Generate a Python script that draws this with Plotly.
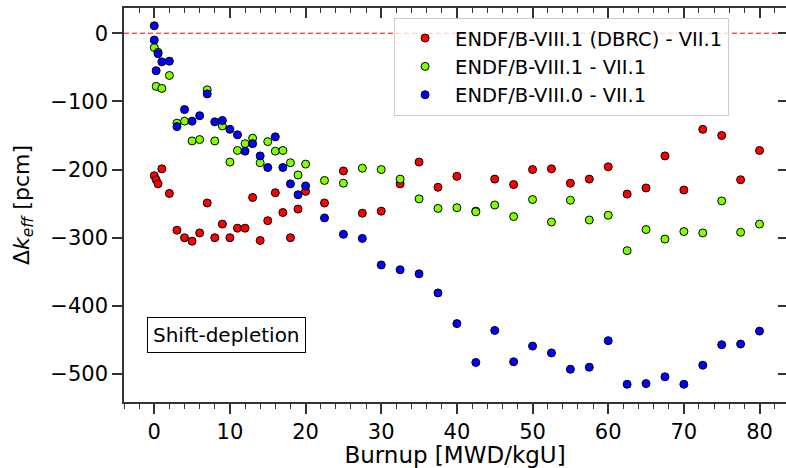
import plotly.graph_objects as go

# burnup steps [MWD/kgU]
burnup = [0, 0.25, 0.5, 1, 2, 3, 4, 5, 6, 7, 8, 9, 10, 11, 12, 13, 14, 15, 16, 17, 18, 19, 20,
          22.5, 25, 27.5, 30, 32.5, 35, 37.5, 40, 42.5, 45, 47.5, 50, 52.5, 55, 57.5, 60,
          62.5, 65, 67.5, 70, 72.5, 75, 77.5, 80]

# delta k_eff [pcm]
dk_dbrc = [-209, -215, -221, -199, -235, -289, -300, -305, -293, -249, -300, -280, -300, -286,
           -286, -241, -304, -275, -234, -263, -300, -258, -232,
           -249, -202, -264, -261, -221, -189, -226, -210, -261, -214, -222, -200, -199, -220,
           -214, -196, -236, -227, -180, -230, -141, -150, -215, -172]
dk_81 = [-21, -78, -28, -81, -62, -132, -129, -158, -156, -83, -158, -136, -189, -172,
         -162, -154, -190, -159, -173, -172, -190, -208, -192,
         -216, -220, -198, -200, -214, -243, -257, -256, -262, -252, -269, -244, -277, -245,
         -274, -267, -319, -288, -302, -291, -293, -246, -292, -280]
burnup_80 = [0] + burnup
dk_80 = [11, -10, -55, -30, -42, -41, -137, -112, -129, -121, -89, -130, -128, -141, -149,
         -173, -162, -180, -197, -152, -197, -221, -237, -224,
         -271, -295, -301, -340, -347, -353, -381, -426, -483, -436, -482, -459, -469, -493,
         -490, -451, -515, -514, -504, -515, -487, -457, -456, -437]

FONT = "DejaVu Sans"

fig = go.Figure()

series = [
    ("ENDF/B-VIII.1 (DBRC) - VII.1", burnup, dk_dbrc, "#ff0000"),
    ("ENDF/B-VIII.1 - VII.1", burnup, dk_81, "#7fff00"),
    ("ENDF/B-VIII.0 - VII.1", burnup_80, dk_80, "#0000ff"),
]
for name, x, y, c in series:
    fig.add_trace(go.Scatter(
        x=x, y=y, mode="markers", name=name,
        marker=dict(color=c, size=8, line=dict(color="black", width=1)),
    ))

# empty trace so the top/right mirror axes get drawn
fig.add_trace(go.Scatter(x=[None], y=[None], xaxis="x2", yaxis="y2",
                         showlegend=False, hoverinfo="skip"))

xr = [-4, 83.5]
yr = [-541, 37]

fig.add_hline(y=0, line=dict(color="red", width=1, dash="5px,3px"), layer="below")

fig.add_annotation(
    x=9.5, y=-442, xref="x", yref="y", text="Shift-depletion", showarrow=False,
    font=dict(size=20, color="black", family=FONT),
    bordercolor="black", borderwidth=1, borderpad=5, bgcolor="white",
)

fig.update_layout(
    width=786, height=468,
    margin=dict(l=124, r=0, t=8, b=66),
    plot_bgcolor="white", paper_bgcolor="white",
    font=dict(family=FONT, size=21, color="black"),
    showlegend=True,
    legend=dict(
        x=0.408, y=0.975, xanchor="left", yanchor="top", itemwidth=50,
        bgcolor="rgba(255,255,255,0.8)", bordercolor="#cccccc", borderwidth=1,
        font=dict(size=19.5, family=FONT),
    ),
    xaxis=dict(
        range=xr, dtick=10, tick0=0, ticks="outside", ticklen=10, tickwidth=1.5,
        tickcolor="#333", showline=True, linecolor="#333", linewidth=1.5,
        showgrid=False, zeroline=False, automargin=False,
        minor=dict(dtick=2, tick0=0, ticks="outside", ticklen=5, tickwidth=1.2, tickcolor="#333"),
        title=dict(text="Burnup [MWD/kgU]", font=dict(size=23)),
        tickfont=dict(size=21),
    ),
    yaxis=dict(
        range=yr, dtick=100, tick0=0, ticks="outside", ticklen=10, tickwidth=1.5,
        tickcolor="#333", showline=True, linecolor="#333", linewidth=1.5,
        showgrid=False, zeroline=False, automargin=False,
        title=dict(text="Δ<i>k</i><sub><i>eff</i></sub> [pcm]", font=dict(size=22)),
        tickfont=dict(size=21),
    ),
    xaxis2=dict(
        overlaying="x", side="top", range=xr, dtick=10, tick0=0, ticks="inside",
        ticklen=10, tickwidth=1.5, tickcolor="#333", showticklabels=False,
        showline=True, linecolor="#333", linewidth=1.5, showgrid=False, zeroline=False,
        automargin=False,
        minor=dict(dtick=2, tick0=0, ticks="inside", ticklen=5, tickwidth=1.2, tickcolor="#333"),
    ),
    yaxis2=dict(
        overlaying="y", side="right", range=yr, dtick=100, tick0=0, ticks="inside",
        ticklen=8, tickwidth=1.5, tickcolor="#333", showticklabels=False,
        showline=False, showgrid=False, zeroline=False, automargin=False,
    ),
)

# page body has a default 8px margin; drop it so the figure sits at the window corner
fig.write_html("out.html", config={"displayModeBar": False},
               post_script="document.body.style.margin='0';")
